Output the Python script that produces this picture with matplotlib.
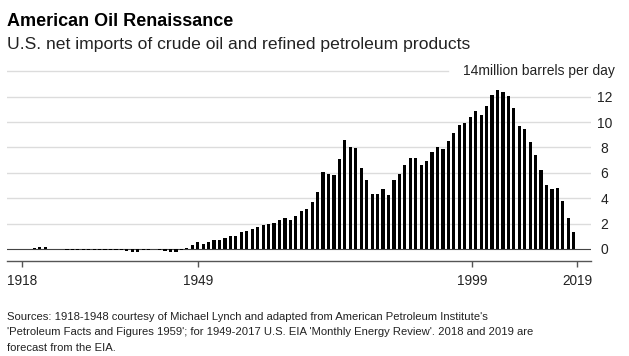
import matplotlib
matplotlib.use("Agg")
import matplotlib.pyplot as plt
import matplotlib.transforms as mtransforms

plt.rcParams['font.family'] = ['Liberation Sans', 'DejaVu Sans']

# ---- data ----
years = list(range(1918, 2020))
early_values = [0.03, 0.03, 0.08, 0.18, 0.17, 0.02, -0.02, -0.03, -0.08, -0.05,
                -0.06, -0.06, -0.07, -0.05, -0.05, -0.08, -0.08, -0.10, -0.12, -0.20,
                -0.22, -0.24, -0.10, -0.05, -0.04, -0.10, -0.15, -0.22, -0.22, -0.05,
                0.10]  # 1918-1948
eia_values = [0.33, 0.55, 0.42, 0.57, 0.68, 0.73, 0.88, 1.02, 1.02, 1.33,
              1.41, 1.61, 1.74, 1.91, 2.00, 2.06, 2.28, 2.44, 2.26, 2.61,
              2.97, 3.16, 3.70, 4.52, 6.03, 5.89, 5.85, 7.09, 8.57, 8.00,
              7.99, 6.37, 5.40, 4.30, 4.31, 4.72, 4.29, 5.44, 5.91, 6.59,
              7.20, 7.16, 6.63, 6.94, 7.62, 8.05, 7.89, 8.50, 9.16, 9.76,
              9.91, 10.42, 10.90, 10.55, 11.24, 12.10, 12.55, 12.39, 12.04, 11.11,
              9.67, 9.44, 8.45, 7.39, 6.24, 5.07, 4.71, 4.80, 3.77, 2.40,
              1.30]  # 1949-2019
values = early_values + eia_values
x_tick_labels = ['1918', '1949', '1999', '2019']
y_ticks = [0, 2, 4, 6, 8, 10, 12]
unit_label = "14million barrels per day"
title = "American Oil Renaissance"
subtitle = "U.S. net imports of crude oil and refined petroleum products"
source_lines = [
    "Sources: 1918-1948 courtesy of Michael Lynch and adapted from American Petroleum Institute's",
    "'Petroleum Facts and Figures 1959'; for 1949-2017 U.S. EIA 'Monthly Energy Review'. 2018 and 2019 are",
    "forecast from the EIA.",
]

# ---- figure ----
W, H = 629, 356
fig = plt.figure(figsize=(W / 100, H / 100), dpi=100)
ax = fig.add_axes([7.3 / W, 95 / H, 583.7 / W, 193.5 / H])

ax.bar(years, values, width=0.58, color='black', zorder=3)

ax.set_xlim(1915.06, 2022.16)
ax.set_ylim(-0.95, 14.3)

# gridlines
for yv in y_ticks[1:]:
    ax.axhline(yv, color='#dcdcdc', lw=1.0, zorder=1)
ax.axhline(14, xmax=0.755, color='#dcdcdc', lw=1.0, zorder=1)
ax.axhline(0, color='#444444', lw=0.8, zorder=2)

for s in ['top', 'right', 'left']:
    ax.spines[s].set_visible(False)
ax.spines['bottom'].set_color('#555555')
ax.spines['bottom'].set_linewidth(1.0)

# x ticks
tick_pos = [1917.8, 1950.1, 2000.4, 2019.6]
ax.set_xticks(tick_pos)
ax.set_xticklabels(x_tick_labels, fontsize=9.8, color='#222222')
ax.tick_params(axis='x', length=4.5, width=1.0, color='#555555', pad=5)

# y ticks on right
ax.yaxis.tick_right()
ax.set_yticks(y_ticks)
ax.set_yticklabels([str(v) for v in y_ticks], fontsize=10, color='#222222')
ax.tick_params(axis='y', length=0, pad=9.7)
for lbl in ax.get_yticklabels():
    lbl.set_horizontalalignment('center')

trans = mtransforms.blended_transform_factory(ax.transAxes, ax.transData)
ax.text((615 - 7.3) / 583.7, 14, unit_label, transform=trans, ha='right',
        va='center', fontsize=10, color='#222222')

# titles
fig.text(7 / W, 1 - 26 / H, title, fontsize=13, fontweight='bold',
         color='black', va='baseline', ha='left')
fig.text(7 / W, 1 - 48.5 / H, subtitle, fontsize=12.6, color='#222222',
         va='baseline', ha='left')

for i, line in enumerate(source_lines):
    fig.text(7 / W, 1 - (320 + 15.3 * i) / H, line, fontsize=8.15,
             color='#222222', va='baseline', ha='left')

fig.savefig('out.png', dpi=100)
